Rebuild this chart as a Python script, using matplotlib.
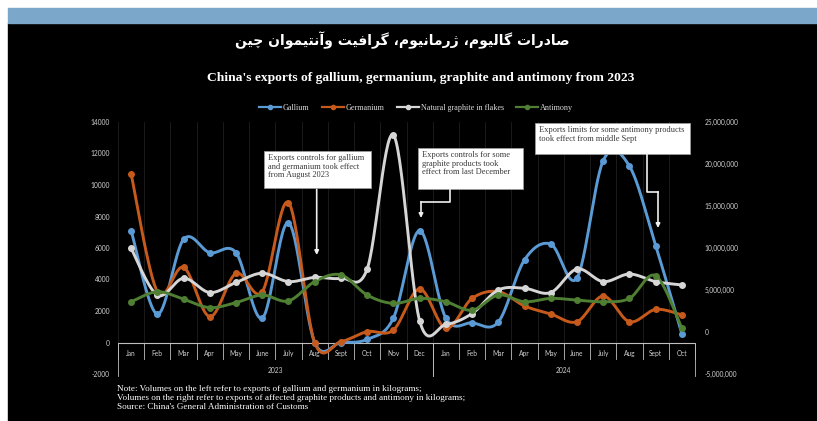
import matplotlib

matplotlib.use("Agg", force=True)
import matplotlib.pyplot as plt
import numpy as np
from matplotlib.lines import Line2D
from matplotlib.patches import Rectangle

# categories (two-level axis: month / year)
months = ["Jan", "Feb", "Mar", "Apr", "May", "June", "July", "Aug", "Sept", "Oct", "Nov", "Dec",
          "Jan", "Feb", "Mar", "Apr", "May", "June", "July", "Aug", "Sept", "Oct"]
years = ["2023"] * 12 + ["2024"] * 10

# left axis, kg
gallium = [7100, 1800, 6550, 5700, 5700, 1550, 7600, 0, 0, 200, 1550, 7100,
           1550, 1250, 1300, 5250, 6250, 4100, 11550, 11200, 6150, 550]
germanium = [10700, 3230, 4770, 1640, 4390, 3230, 8880, 0, 50, 690, 790, 3400,
             900, 2800, 3230, 2320, 1810, 1320, 2950, 1320, 2100, 1750]
# right axis, kg
graphite = [9960000, 4400000, 6400000, 4700000, 5900000, 7000000, 6000000, 6500000, 6400000,
            7500000, 23450000, 1350000, 900000, 2200000, 5000000, 5200000, 4700000, 7500000,
            6000000, 6900000, 6000000, 5600000]
antimony = [3600000, 4800000, 3900000, 2900000, 3500000, 4400000, 3700000, 6000000, 6800000,
            4400000, 3400000, 4000000, 3600000, 2600000, 4400000, 3600000, 4000000, 3800000,
            3600000, 4000000, 6700000, 440000]

left_ticks = list(range(-2000, 14001, 2000))
right_ticks = list(range(-5000000, 25000001, 5000000))

series_names = ["Gallium", "Germanium", "Natural graphite in flakes", "Antimony"]
colors = ["#5B9BD5", "#C65A1C", "#D6D6D6", "#4F7F32"]

title_fa = "صادرات گالیوم، ژرمانیوم، گرافیت وآنتیموان چین"
title_en = "China's exports of gallium, germanium, graphite and antimony from 2023"
notes = [
    "Note: Volumes on the left refer to exports of gallium and germanium in kilograms;",
    "Volumes on the right refer to exports of affected graphite products and antimony in kilograms;",
    "Source: China's General Administration of Customs",
]

W, H = 817, 421

# --- Persian shaping (matplotlib has no complex text layout) ---
FORMS = {
    "ا": ("\uFE8D", "\uFE8E", None, None), "آ": ("\uFE81", "\uFE82", None, None),
    "د": ("\uFEA9", "\uFEAA", None, None), "ر": ("\uFEAD", "\uFEAE", None, None),
    "ژ": ("\uFB8A", "\uFB8B", None, None), "و": ("\uFEED", "\uFEEE", None, None),
    "ص": ("\uFEB9", "\uFEBA", "\uFEBB", "\uFEBC"), "ت": ("\uFE95", "\uFE96", "\uFE97", "\uFE98"),
    "گ": ("\uFB92", "\uFB93", "\uFB94", "\uFB95"), "ل": ("\uFEDD", "\uFEDE", "\uFEDF", "\uFEE0"),
    "ی": ("\uFBFC", "\uFBFD", "\uFBFE", "\uFBFF"), "م": ("\uFEE1", "\uFEE2", "\uFEE3", "\uFEE4"),
    "ن": ("\uFEE5", "\uFEE6", "\uFEE7", "\uFEE8"), "ف": ("\uFED1", "\uFED2", "\uFED3", "\uFED4"),
    "چ": ("\uFB7A", "\uFB7B", "\uFB7C", "\uFB7D"),
}


def shape_fa(text):
    out = []
    for i, ch in enumerate(text):
        if ch not in FORMS:
            out.append(ch)
            continue
        prev = text[i - 1] if i > 0 else ""
        nxt = text[i + 1] if i + 1 < len(text) else ""
        dual = FORMS[ch][2] is not None
        join_prev = prev in FORMS and FORMS[prev][2] is not None
        join_next = dual and nxt in FORMS
        iso, fin, ini, med = FORMS[ch]
        if join_prev and join_next:
            out.append(med)
        elif join_next:
            out.append(ini)
        elif join_prev:
            out.append(fin)
        else:
            out.append(iso)
    return "".join(reversed(out))


def smooth(xs, ys, steps=30):
    # Catmull-Rom / Bezier smoothing like a spreadsheet "smoothed line"
    x = np.asarray(xs, float)
    y = np.asarray(ys, float)
    xp = np.concatenate([[x[0]], x, [x[-1]]])
    yp = np.concatenate([[y[0]], y, [y[-1]]])
    t = np.linspace(0, 1, steps)[:, None]
    pts = []
    for i in range(len(x) - 1):
        p0 = np.array([xp[i], yp[i]])
        p1 = np.array([xp[i + 1], yp[i + 1]])
        p2 = np.array([xp[i + 2], yp[i + 2]])
        p3 = np.array([xp[i + 3], yp[i + 3]])
        c1 = p1 + (p2 - p0) / 6
        c2 = p2 - (p3 - p1) / 6
        seg = ((1 - t) ** 3) * p1 + 3 * ((1 - t) ** 2) * t * c1 + 3 * (1 - t) * t ** 2 * c2 + t ** 3 * p2
        pts.append(seg if i == 0 else seg[1:])
    pts = np.vstack(pts)
    return pts[:, 0], pts[:, 1]


def fx(px):
    return px / W


def fy(py):
    return 1 - py / H


fig = plt.figure(figsize=(W / 100, H / 100), dpi=100)
fig.patch.set_facecolor("white")
fig.add_artist(Rectangle((fx(8), 0), 1, fy(23), transform=fig.transFigure, color="black", zorder=0))
fig.add_artist(Rectangle((fx(8), fy(23)), 1, fy(8) - fy(23), transform=fig.transFigure,
                         color="#7BA7CB", zorder=0))

ax = fig.add_axes([fx(118), fy(374), fx(695) - fx(118), fy(122) - fy(374)])
ax.set_facecolor("none")
ax2 = ax.twinx()
ax2.set_facecolor("none")

n = len(months)
xs = np.arange(n)
ax.set_xlim(-0.5, n - 0.5)
ax.set_ylim(left_ticks[0], left_ticks[-1])
ax2.set_ylim(right_ticks[0], right_ticks[-1])

for a in (ax, ax2):
    for sp in a.spines.values():
        sp.set_visible(False)
    a.tick_params(length=0, labelsize=4.8, colors="#d0d0d0", labelfontfamily="Lato")
ax.set_xticks([])
ax.set_yticks(left_ticks)
ax.set_yticklabels([f"{v}" for v in left_ticks])
ax.tick_params(axis="y", pad=5.8)
ax2.set_yticks(right_ticks)
ax2.set_yticklabels([f"{v:,}" for v in right_ticks])
ax2.tick_params(axis="y", pad=7)

# vertical gridlines at category boundaries
for b in np.arange(-0.5, n, 1.0):
    ax.plot([b, b], [0, left_ticks[-1]], color="#1e1e1e", lw=0.6, zorder=0)

# category axis
ax.axhline(0, color="#bfbfbf", lw=0.8, zorder=1)
for b in np.arange(-0.5, n, 1.0):
    ax.plot([b, b], [0, -1050], color="#bfbfbf", lw=0.6, clip_on=False)
for i, m in enumerate(months):
    ax.text(i, -720, m, ha="center", va="center", fontsize=4.8, color="#d0d0d0", family="Lato")
year_order = list(dict.fromkeys(years))
for yr in year_order:
    idx = [i for i, v in enumerate(years) if v == yr]
    ax.text(np.mean(idx), -1750, yr, ha="center", va="center", fontsize=4.8, color="#d0d0d0",
            family="Lato")
    for b in (idx[0] - 0.5, idx[-1] + 0.5):
        ax.plot([b, b], [0, -2100], color="#bfbfbf", lw=0.6, clip_on=False)

# series
for a, vals, col in ((ax, gallium, colors[0]), (ax, germanium, colors[1]),
                     (ax2, graphite, colors[2]), (ax2, antimony, colors[3])):
    sx, sy = smooth(xs, vals)
    a.plot(sx, sy, color=col, lw=2.1, solid_capstyle="round", zorder=3)
    a.plot(xs, vals, "o", color=col, ms=4, zorder=4)

# titles
fig.text(fx(402), fy(40), shape_fa(title_fa), ha="center", va="center", color="white",
         fontsize=10, fontweight="bold", family=["DejaVu Sans"])
fig.text(fx(421), fy(78), title_en, ha="center", va="center", color="white",
         fontsize=9.7, fontweight="bold", family="Liberation Serif")

handles = [Line2D([], [], color=c, lw=1.6, marker="o", ms=3) for c in colors]
fig.legend(handles, series_names, loc="center", bbox_to_anchor=(fx(416), fy(107.7)), ncol=4,
           frameon=False, prop={"family": "Liberation Serif", "size": 5.9}, labelcolor="#d9d9d9",
           handlelength=2.7, handletextpad=0.2, columnspacing=1.5)

for k, line in enumerate(notes):
    fig.text(fx(117), fy(389 + 9 * k), line, ha="left", va="center", color="white",
             fontsize=6.6, family="Liberation Serif")

# annotation boxes (pixel layout) and elbow arrows
boxes = [
    ((264, 151, 371, 188), "Exports controls for gallium\nand germanium took effect\nfrom August 2023",
     [(316.7, 188), (316.7, 255)]),
    ((418, 148, 523, 189), "Exports controls for some\ngraphite products took\neffect from last December",
     [(450, 189), (450, 201.7), (421, 201.7), (421, 218)]),
    ((535, 123, 690, 154), "Exports limits for some antimony products\ntook effect from middle Sept",
     [(646.7, 154), (646.7, 191.7), (658, 191.7), (658, 228)]),
]
for (x0, y0, x1, y1), txt, path in boxes:
    fig.add_artist(Rectangle((fx(x0), fy(y1)), fx(x1) - fx(x0), fy(y0) - fy(y1),
                             transform=fig.transFigure, fc="white", ec="#9a9a9a", lw=0.6, zorder=5))
    fig.text(fx(x0 + 4), fy(y0 + 3), txt, ha="left", va="top", fontsize=6.0, color="#383838",
             family="Liberation Serif", linespacing=1.1, zorder=6)
    if len(path) > 2:
        fig.add_artist(Line2D([fx(p[0]) for p in path[:-1]], [fy(p[1]) for p in path[:-1]],
                              transform=fig.transFigure, color="#f0f0f0", lw=1.2, zorder=5))
    ax.annotate("", xy=(fx(path[-1][0]), fy(path[-1][1])), xycoords="figure fraction",
                xytext=(fx(path[-2][0]), fy(path[-2][1])), textcoords="figure fraction",
                arrowprops=dict(arrowstyle="-|>", color="#f0f0f0", lw=1.2, mutation_scale=6,
                                shrinkA=0, shrinkB=0), zorder=6)

fig.savefig("out.png", dpi=100, facecolor=fig.get_facecolor())
